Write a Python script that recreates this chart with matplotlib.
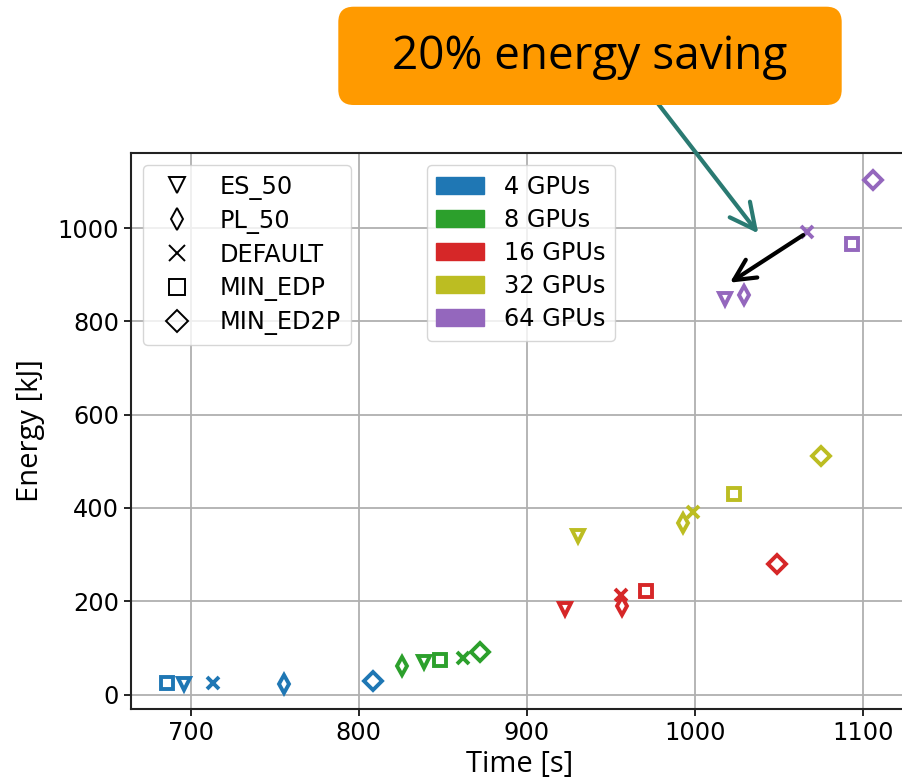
import matplotlib
matplotlib.use("Agg")
import matplotlib.pyplot as plt
from matplotlib.lines import Line2D
from matplotlib.patches import Patch, FancyBboxPatch

# strategies (marker legend)
configs = ["ES_50", "PL_50", "DEFAULT", "MIN_EDP", "MIN_ED2P"]
markers = ["v", "d", "x", "s", "D"]

# GPU counts (colour legend)
gpu_labels = ["4 GPUs", "8 GPUs", "16 GPUs", "32 GPUs", "64 GPUs"]
colors = ["#1f77b4", "#2ca02c", "#d62728", "#bcbd22", "#9467bd"]

# time [s], in configs order, one list per gpu count
time_4 = [696.2, 755.7, 713.1, 686.1, 808.7]
time_8 = [839.0, 825.6, 862.3, 848.4, 872.2]
time_16 = [922.8, 956.9, 956.1, 970.8, 1049.0]
time_32 = [930.4, 992.8, 999.2, 1023.6, 1075.0]
time_64 = [1018.0, 1029.2, 1066.7, 1093.5, 1106.0]

# energy [kJ]
energy_4 = [23, 23, 25.7, 25.7, 30]
energy_8 = [69, 62, 79, 73.7, 91]
energy_16 = [184, 190, 213.6, 222.9, 280]
energy_32 = [339.4, 368.6, 390.8, 430, 511.5]
energy_64 = [849, 856.5, 992, 965.7, 1104]

times = [time_4, time_8, time_16, time_32, time_64]
energies = [energy_4, energy_8, energy_16, energy_32, energy_64]

# annotation arrow (DEFAULT -> ES_50 at 64 GPUs) and callout target
saving_from = (1064.6, 985)
saving_to = (1021.0, 883)
callout_tip = (1037.9, 988.6)
callout_text = "20% energy saving"

fig = plt.figure(figsize=(9.02, 7.81), dpi=100)
ax = fig.add_axes([131 / 902, 72 / 781, 777 / 902, 556 / 781])

for t, e, c in zip(times, energies, colors):
    for x, y, m in zip(t, e, markers):
        ax.plot(x, y, linestyle="none", marker=m, markersize=9,
                markerfacecolor="none", markeredgecolor=c,
                markeredgewidth=2.8, zorder=3)

ax.set_xlim(664.5, 1127)
ax.set_ylim(-31, 1161)
ax.set_xticks([700, 800, 900, 1000, 1100])
ax.set_yticks([0, 200, 400, 600, 800, 1000])
ax.grid(True, color="#b0b0b0", linewidth=1.3)
ax.set_axisbelow(True)
ax.tick_params(labelsize=17.3, width=1.2, length=5)
for s in ax.spines.values():
    s.set_linewidth(1.5)
    s.set_color("#222222")

ax.set_xlabel("Time [s]", fontsize=21, family="Open Sans", labelpad=4)
ax.set_ylabel("Energy [kJ]", fontsize=21, family="Open Sans", labelpad=9)

h1 = [Line2D([], [], linestyle="none", marker=m, color="black",
             markerfacecolor="none", markersize=11, markeredgewidth=1.4)
      for m in markers]
leg1 = ax.legend(h1, configs, loc="upper left", fontsize=17.3,
                 labelspacing=0.38)
ax.add_artist(leg1)

h2 = [Patch(color=c) for c in colors]
ax.legend(h2, gpu_labels, loc="upper left", fontsize=17.3, labelspacing=0.38,
          bbox_to_anchor=(0.3806, 0.9784), borderaxespad=0)

ax.annotate("", xy=saving_to, xytext=saving_from,
            arrowprops=dict(arrowstyle="->", color="black", lw=3,
                            mutation_scale=38, shrinkA=0, shrinkB=0),
            zorder=4)

# orange callout box
box = FancyBboxPatch((338.3 / 902, 1 - 105 / 781), 503.4 / 902, 98.3 / 781,
                     boxstyle="round,pad=0,rounding_size=0.017",
                     mutation_aspect=902 / 781,
                     transform=fig.transFigure, facecolor="#ff9a00",
                     edgecolor="none")
fig.patches.append(box)
fig.text(590 / 902, 1 - 57 / 781, callout_text, fontsize=33,
         family="Open Sans", ha="center", va="center")

ax.annotate("", xy=callout_tip, xycoords="data",
            xytext=(658.3 / 902, 1 - 104 / 781), textcoords="figure fraction",
            arrowprops=dict(arrowstyle="->", color="#2a7a72", lw=3,
                            mutation_scale=46, shrinkA=0, shrinkB=0),
            annotation_clip=False)

fig.savefig("out.png", dpi=100)
